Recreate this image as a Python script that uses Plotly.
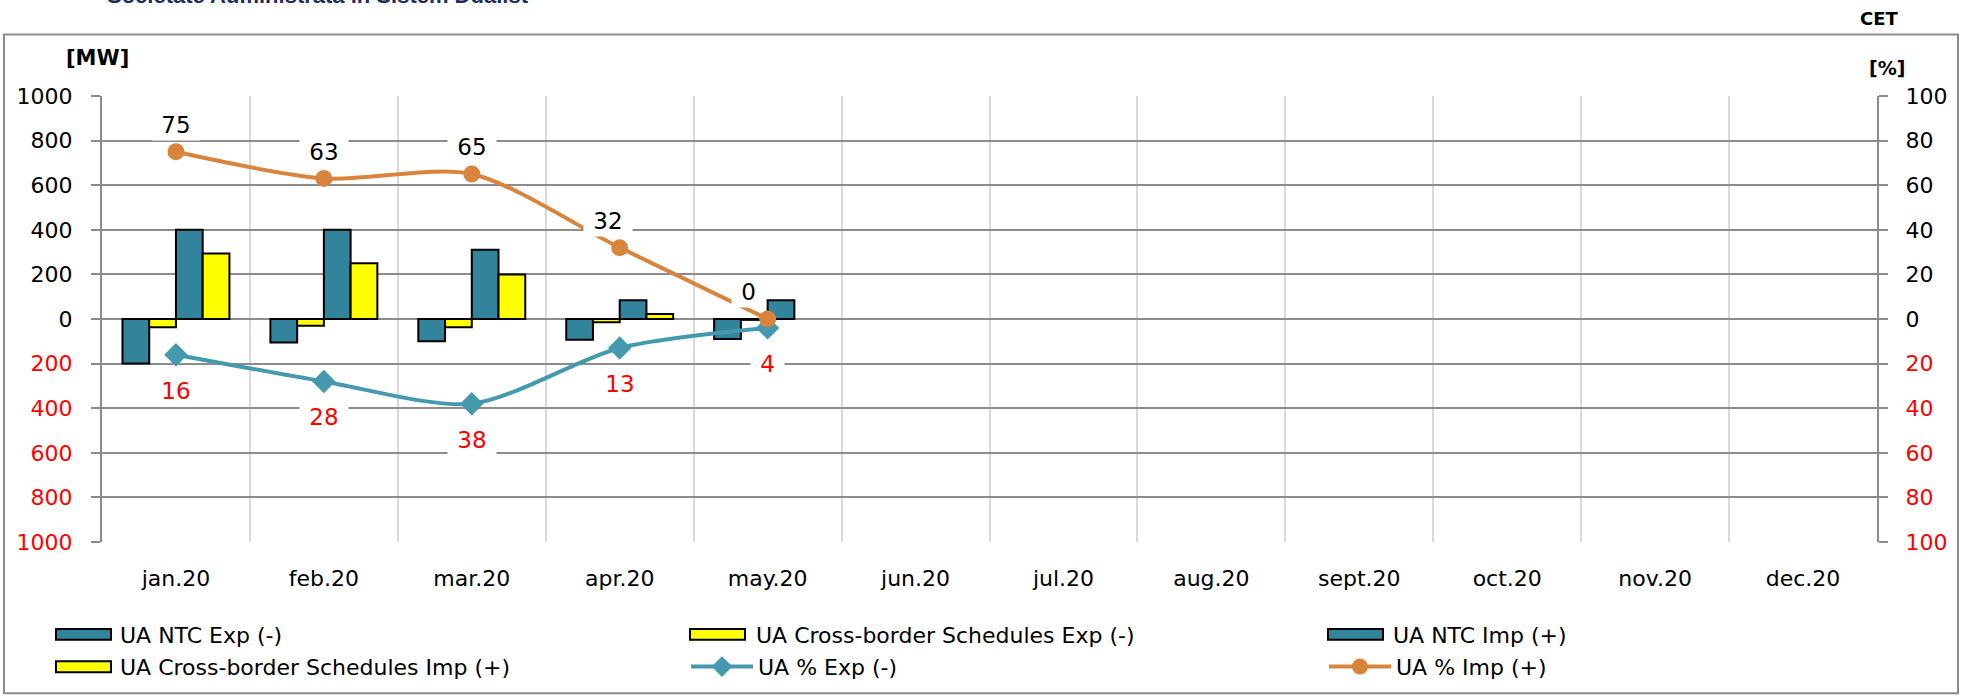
import plotly.graph_objects as go

# Monthly categories
months = ["jan.20", "feb.20", "mar.20", "apr.20", "may.20", "jun.20",
          "jul.20", "aug.20", "sept.20", "oct.20", "nov.20", "dec.20"]

# Capacities and schedules [MW] (exports negative)
ntc_exp = [-200, -105, -100, -93, -90]
cbs_exp = [-37, -30, -37, -15, -4]
ntc_imp = [400, 400, 310, 84, 84]
cbs_imp = [294, 250, 200, 22, None]

# Utilisation [%] (exports plotted below zero)
pct_exp = [16, 28, 38, 13, 4]
pct_imp = [75, 63, 65, 32, 0]

# Axis ticks
mw_ticks = list(range(-1000, 1001, 200))
pct_ticks = list(range(-100, 101, 20))

TEAL = "#31849B"
YELLOW = "#FFFF00"
LINE_TEAL = "#4599AE"
ORANGE = "#D9843C"
RED = "#FF0000"
GRID = "#8C8C8C"
VGRID = "#D9D9D9"
FONT = "DejaVu Sans"

W, H = 1970, 700
L, R, T, B = 102, 93, 96, 150
PW, PH = W - L - R, H - T - B


def px_x(x):
    return (x - L) / PW


def px_y(y):
    return (H - B - y) / PH


def signed_label(v):
    if v < 0:
        return f"<span style='color:{RED}'>{abs(v)}</span>"
    return str(v)


fig = go.Figure()

n = len(ntc_exp)
bar_series = [
    ("UA NTC Exp (-)", ntc_exp, TEAL),
    ("UA Cross-border Schedules Exp (-)", cbs_exp, YELLOW),
    ("UA NTC Imp (+)", ntc_imp, TEAL),
    ("UA Cross-border Schedules Imp (+)", cbs_imp, YELLOW),
]
for name, vals, col in bar_series:
    fig.add_trace(go.Bar(
        x=months[:n], y=vals, name=name, showlegend=False,
        marker=dict(color=col, line=dict(color="black", width=2)),
    ))

fig.add_trace(go.Scatter(
    x=months[:n], y=[-v for v in pct_exp], name="UA % Exp (-)", legend="legend",
    yaxis="y2", mode="lines+markers",
    line=dict(color=LINE_TEAL, width=4, shape="spline", smoothing=0.8),
    marker=dict(symbol="diamond", size=18, color=LINE_TEAL),
))
fig.add_trace(go.Scatter(
    x=months[:n], y=pct_imp, name="UA % Imp (+)", legend="legend2",
    yaxis="y2", mode="lines+markers",
    line=dict(color=ORANGE, width=4, shape="spline", smoothing=0.8),
    marker=dict(symbol="circle", size=17, color=ORANGE),
))

annotations = []
# Data labels for the percentage series
imp_xshift = [0, 0, 0, -12, -19]
for m, v, dx in zip(months, pct_imp, imp_xshift):
    annotations.append(dict(
        x=m, y=v, xref="x", yref="y2", text=f"&nbsp;{v}&nbsp;", showarrow=False,
        yshift=27, xshift=dx, bgcolor="white", borderpad=2,
        font=dict(family=FONT, size=23, color="black"),
    ))
for m, v in zip(months, pct_exp):
    annotations.append(dict(
        x=m, y=-v, xref="x", yref="y2", text=f"&nbsp;{v}&nbsp;", showarrow=False,
        yshift=-36, bgcolor="white", borderpad=2,
        font=dict(family=FONT, size=23, color=RED),
    ))

# Header and unit labels
annotations += [
    dict(xref="paper", yref="paper", x=px_x(105), y=px_y(8), xanchor="left",
         yanchor="bottom", showarrow=False,
         text="<b>Societate Administrata in Sistem Dualist</b>",
         font=dict(family="Liberation Sans", size=22, color="#1F2D5A")),
    dict(xref="paper", yref="paper", x=px_x(97), y=px_y(57), xanchor="center",
         yanchor="middle", showarrow=False, text="<b>[MW]</b>",
         font=dict(family=FONT, size=21, color="black")),
    dict(xref="paper", yref="paper", x=px_x(1887), y=px_y(68), xanchor="center",
         yanchor="middle", showarrow=False, text="<b>[%]</b>",
         font=dict(family=FONT, size=19, color="black")),
    dict(xref="paper", yref="paper", x=px_x(1879), y=px_y(17), xanchor="center",
         yanchor="middle", showarrow=False, text="<b>CET</b>",
         font=dict(family=FONT, size=18, color="black")),
]

shapes = [
    dict(type="rect", xref="paper", yref="paper",
         x0=px_x(4), x1=px_x(1958), y0=px_y(704), y1=px_y(33.5),
         line=dict(color=GRID, width=2), fillcolor="rgba(0,0,0,0)", layer="below"),
]

# Legend swatches for the bar series (wide boxes with outline)
bar_legend = [(56, 644, 118), (690, 644, 754), (1328, 644, 1391), (56, 677, 118)]
for (sx, sy, tx), (name, _, col) in zip(bar_legend, bar_series):
    shapes.append(dict(
        type="rect", xref="paper", yref="paper",
        x0=px_x(sx), x1=px_x(sx + 55), y0=px_y(sy + 5.5), y1=px_y(sy - 5.5),
        line=dict(color="black", width=2), fillcolor=col,
    ))
    annotations.append(dict(
        xref="paper", yref="paper", x=px_x(tx), y=px_y(sy + 1),
        xanchor="left", yanchor="middle", showarrow=False, text=name,
        font=dict(family=FONT, size=22, color="black"),
    ))

legend_layout = {}
for key, (lx, ly) in {"legend": (686, 677), "legend2": (1324, 677)}.items():
    legend_layout[key] = dict(
        x=px_x(lx), y=px_y(ly), xanchor="left", yanchor="middle",
        orientation="h", bgcolor="rgba(0,0,0,0)", borderwidth=0,
        itemwidth=62, font=dict(family=FONT, size=22, color="black"),
    )

fig.update_layout(
    width=W, height=H,
    margin=dict(l=L, r=R, t=T, b=B, pad=0),
    paper_bgcolor="white", plot_bgcolor="white",
    barmode="group", bargap=0.277, bargroupgap=0,
    showlegend=True,
    annotations=annotations, shapes=shapes,
    xaxis=dict(
        type="category", categoryorder="array", categoryarray=months,
        range=[-0.5, 11.5], tickson="boundaries", ticks="",
        showgrid=True, gridcolor=VGRID, gridwidth=2,
        showline=False, zeroline=False, ticklabelstandoff=21,
        tickfont=dict(family=FONT, size=22, color="black"),
        fixedrange=True,
    ),
    yaxis=dict(
        range=[-1000, 1000], tickmode="array", tickvals=mw_ticks,
        ticktext=[signed_label(v) for v in mw_ticks],
        showgrid=True, gridcolor=GRID, gridwidth=2,
        zeroline=True, zerolinecolor=GRID, zerolinewidth=2,
        showline=True, linecolor=GRID, linewidth=2,
        ticks="outside", ticklen=9, tickcolor=GRID, tickwidth=2,
        ticklabelstandoff=14,
        tickfont=dict(family=FONT, size=22, color="black"),
    ),
    yaxis2=dict(
        range=[-100, 100], overlaying="y", side="right",
        tickmode="array", tickvals=pct_ticks,
        ticktext=[signed_label(v) for v in pct_ticks],
        showgrid=False, zeroline=False,
        showline=True, linecolor=GRID, linewidth=2,
        ticks="outside", ticklen=9, tickcolor=GRID, tickwidth=2,
        ticklabelstandoff=13,
        tickfont=dict(family=FONT, size=22, color="black"),
    ),
    **legend_layout,
)

fig.write_html("out.html")
